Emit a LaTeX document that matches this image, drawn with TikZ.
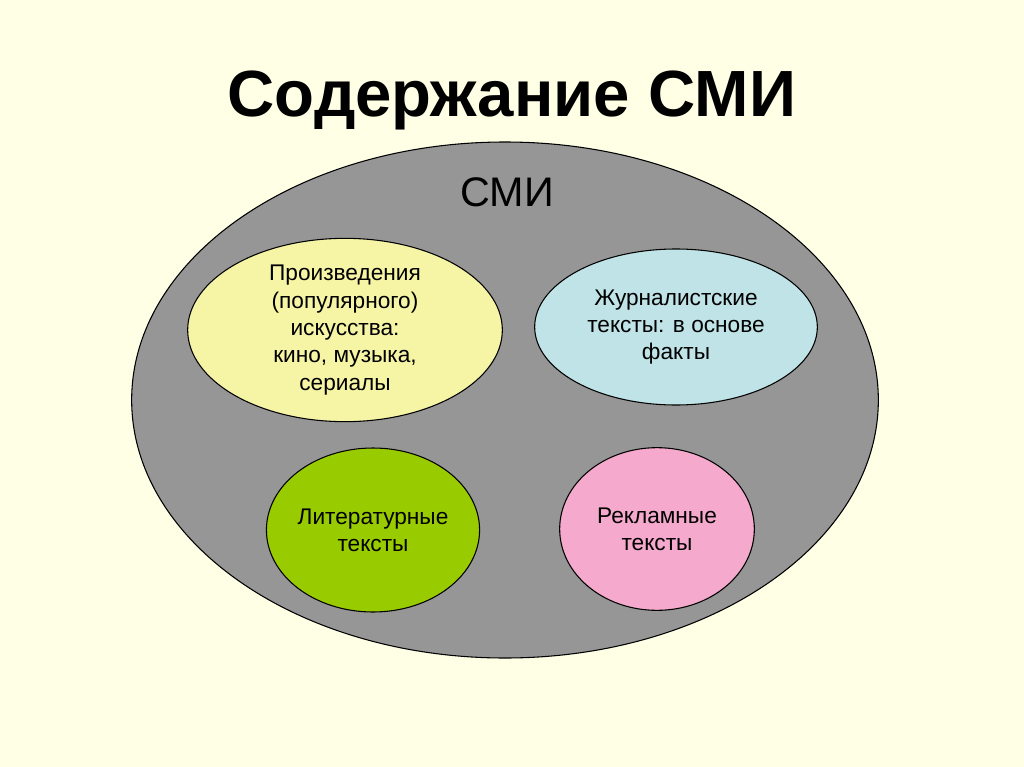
\documentclass[tikz,border=0pt]{standalone}
\usepackage{fontspec}
\setmainfont{Liberation Sans}
\usetikzlibrary{positioning, shapes.geometric}
\definecolor{bgpaper}{HTML}{FFFFE6}
\definecolor{smigray}{HTML}{969696}
\definecolor{artyellow}{HTML}{F6F5A6}
\definecolor{jourblue}{HTML}{BFE3E6}
\definecolor{litgreen}{HTML}{99CC00}
\definecolor{adpink}{HTML}{F5A9CC}
\begin{document}
\begin{tikzpicture}[x=0.75pt, y=-0.75pt,
  blob/.style={ellipse, draw=black, thick, align=center, inner sep=0pt,
    font=\fontsize{17}{20.5}\selectfont}]

\fill[bgpaper] (0,0) rectangle (1024,767);
\useasboundingbox (0,0) rectangle (1024,767);

\node[font=\fontsize{49}{55}\selectfont\bfseries] (title) at (512,100) {Содержание СМИ};

\node[ellipse, draw=black, thick, fill=smigray, minimum width=560pt, minimum height=387pt] (smi) at (505,400) {};
\node[font=\fontsize{31}{36}\selectfont] (smilabel) at (507,192) {СМИ};

\node[blob, fill=artyellow, minimum width=236pt, minimum height=125pt] (art) at (345,330)
  {Произведения\\(популярного)\\искусства:\\кино, музыка,\\сериалы};
\node[blob, fill=jourblue, minimum width=212pt, minimum height=117pt] (jour) at (676,327)
  {Журналистские\\тексты: в основе\\факты};
\node[blob, fill=litgreen, minimum width=147pt, minimum height=123pt] (lit) at (373,530)
  {Литературные\\тексты};
\node[blob, fill=adpink, minimum width=146pt, minimum height=122pt] (ad) at (657,529)
  {Рекламные\\тексты};
\end{tikzpicture}
\end{document}
